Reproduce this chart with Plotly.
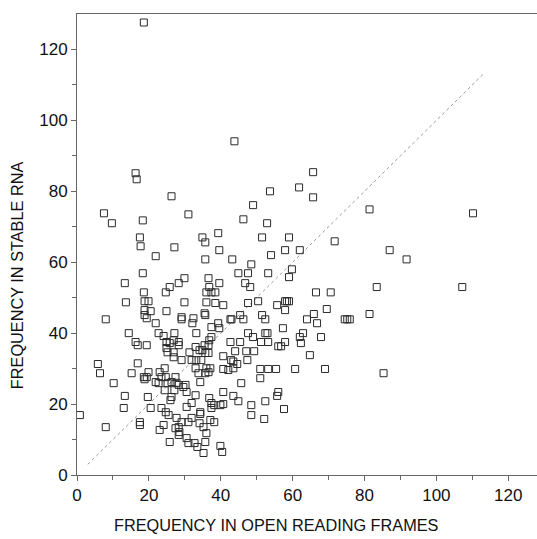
import plotly.graph_objects as go

# Frequency in open reading frames (x) vs frequency in stable RNA (y)
pts = [
 (18.6,127.6),(43.8,94.1),(16.3,85.1),(16.6,83.4),(26.3,78.6),(65.7,85.4),(61.8,81.1),(65.7,78.3),
 (53.7,80.0),(49.0,76.1),(31.0,73.5),(7.5,73.8),(9.7,71.0),(18.3,71.8),(46.3,72.1),(52.9,71.0),
 (81.4,74.9),(110.2,73.8),(17.5,67.0),(17.7,64.5),(27.1,64.2),(21.9,61.7),(34.9,67.0),(35.7,65.6),
 (39.3,68.2),(39.6,63.4),(35.7,60.8),(51.5,67.0),(59.0,67.0),(71.7,65.9),(62.0,63.4),(57.9,63.4),
 (54.0,62.0),(43.2,60.8),(48.5,59.4),(59.8,58.0),(59.0,55.8),(44.9,56.9),(47.6,56.9),(53.2,56.9),
 (46.8,54.1),(48.2,53.0),(36.6,55.5),(36.8,53.0),(36.0,51.5),(37.4,51.5),(38.5,51.5),(39.6,54.1),
 (18.3,56.9),(13.3,54.1),(29.9,55.5),(28.3,54.1),(25.8,53.0),(24.7,51.5),(18.6,51.5),(13.6,48.7),
 (18.8,49.0),(19.9,49.0),(29.9,48.7),(36.0,48.7),(38.5,48.5),(40.7,47.9),(66.5,51.5),(70.6,51.5),
 (50.4,49.0),(57.9,49.0),(58.4,49.0),(59.0,49.0),(55.7,47.9),(57.9,46.5),(69.5,46.8),(74.5,43.9),
 (75.2,43.9),(75.9,43.9),(65.9,45.4),(64.0,43.9),(66.8,42.8),(81.4,45.4),(83.4,53.0),(87.0,63.4),
 (91.7,60.8),(107.2,53.0),(85.3,28.7),(51.5,45.1),(52.4,43.9),(45.4,45.1),(46.3,43.9),(42.7,43.9),
 (43.0,43.9),(35.7,45.1),(39.3,42.8),(37.4,41.7),(57.3,41.4),(47.6,40.0),(49.0,38.9),(52.4,40.0),
 (53.0,40.0),(51.2,37.5),(53.2,37.5),(57.9,37.5),(56.0,36.3),(56.8,36.3),(62.9,40.0),(62.0,38.9),
 (62.3,37.2),(67.9,38.9),(64.8,33.8),(42.7,37.5),(45.4,37.5),(44.0,34.9),(47.1,34.9),(49.3,34.9),
 (47.4,32.4),(42.9,32.4),(43.5,32.0),(44.6,31.3),(40.7,33.5),(40.7,29.9),(51.0,29.9),(51.0,27.3),
 (53.2,29.9),(55.4,29.9),(60.7,29.9),(69.0,29.9),(45.7,25.9),(40.7,23.4),(43.5,22.3),(44.9,20.8),
 (48.5,19.7),(48.5,16.9),(52.4,20.8),(52.1,15.8),(56.0,23.4),(55.7,22.3),(57.6,18.6),(37.1,15.5),
 (39.9,19.7),(35.2,13.5),(36.0,11.8),(35.7,9.3),(39.9,8.2),(40.4,6.5),(34.3,17.2),(18.8,46.5),
 (18.8,45.1),(19.4,44.2),(20.5,46.2),(8.0,43.9),(24.9,46.2),(29.1,44.5),(29.1,43.9),(32.4,44.2),
 (32.1,42.8),(35.5,45.6),(14.4,40.0),(16.3,37.5),(16.9,36.6),(19.4,36.6),(22.7,40.0),(24.1,39.2),
 (24.9,37.5),(25.8,37.2),(27.1,40.0),(28.3,37.5),(25.2,34.6),(26.9,34.6),(26.9,33.2),(29.1,32.4),
 (31.3,34.6),(33.0,36.1),(34.1,35.2),(34.9,35.2),(35.5,36.6),(36.6,36.6),(36.8,38.0),(37.4,38.9),
 (39.6,41.4),(5.8,31.3),(6.4,28.7),(16.9,31.5),(15.2,28.7),(18.6,27.6),(19.4,27.6),(19.9,29.0),
 (18.8,27.0),(21.9,26.2),(23.5,27.6),(24.7,27.6),(25.2,25.9),(26.3,26.2),(27.4,27.6),(28.3,25.4),
 (29.6,24.8),(27.1,23.9),(26.3,22.0),(24.4,23.9),(10.2,25.9),(13.3,22.3),(13.0,18.9),(19.7,22.0),
 (20.5,18.9),(23.5,18.9),(17.5,14.1),(17.5,14.9),(0.8,16.9),(8.0,13.5),(24.7,17.7),(25.5,16.9),
 (27.7,16.1),(24.1,14.1),(23.0,12.7),(25.8,9.3),(28.5,12.1),(30.5,10.4),(31.0,9.0),(29.1,14.9),
 (28.3,13.5),(31.9,16.1),(34.1,14.6),(32.7,9.0),(33.5,7.9),(35.2,6.2),(36.8,21.7),(37.4,20.3),
 (37.4,18.9),(38.2,19.7),(38.2,14.9),(40.7,20.0),(31.9,20.3),(30.5,19.2),(34.3,17.7),(24.4,30.1),
 (23.0,29.0),(47.6,48.5),(21.9,42.8),(33.2,40.0),(26.9,38.0),(28.3,36.6),(24.9,35.8),(31.9,32.4),
 (33.2,32.4),(34.6,32.4),(35.7,34.4),(36.6,34.4),(42.1,29.6),(43.5,30.1),(33.0,30.1),(36.0,30.1),
 (37.1,30.1),(22.7,25.9),(27.7,26.0),(30.2,25.4),(30.5,23.4),(33.0,22.5),(33.8,28.7),(34.3,26.2),
 (35.7,28.7),(36.6,29.0),(26.0,21.1),(27.4,13.2),(28.3,11.3),(31.0,14.9),
]
x_orf = [p[0] for p in pts]
y_rna = [p[1] for p in pts]
diag = [3, 113]

x_title = "FREQUENCY IN OPEN READING FRAMES"
y_title = "FREQUENCY IN STABLE RNA"

fig = go.Figure()
fig.add_trace(go.Scatter(x=diag, y=diag, mode="lines",
                         line=dict(color="#9a9a9a", width=1, dash="dot"),
                         hoverinfo="skip", showlegend=False))
fig.add_trace(go.Scatter(x=x_orf, y=y_rna, mode="markers",
                         marker=dict(symbol="square-open", size=7,
                                     color="#2a2a2a", line=dict(width=1)),
                         showlegend=False))

fnt = dict(family="Liberation Sans, Arial, sans-serif", size=17, color="#111")
tfnt = dict(family="Liberation Sans, Arial, sans-serif", size=16.3, color="#111")
fig.update_layout(
    width=537, height=539, margin=dict(l=77, r=0, t=14, b=64),
    paper_bgcolor="white", plot_bgcolor="white", font=fnt,
    xaxis=dict(range=[0, 128], tickvals=[0, 20, 40, 60, 80, 100, 120],
               showgrid=False, zeroline=False, showline=True, linecolor="#666",
               linewidth=1, mirror=True, ticks="outside", ticklen=5, tickcolor="#666",
               minor=dict(tickvals=[10, 30, 50, 70, 90, 110], ticks="outside",
                          ticklen=4, tickcolor="#666"),
               tickfont=fnt),
    yaxis=dict(range=[0, 130], tickvals=[0, 20, 40, 60, 80, 100, 120],
               showgrid=False, zeroline=False, showline=True, linecolor="#666",
               linewidth=1, ticks="outside", ticklen=5, tickcolor="#666",
               minor=dict(tickvals=[10, 30, 50, 70, 90, 110], ticks="outside",
                          ticklen=4, tickcolor="#666"),
               tickfont=fnt),
    annotations=[
        dict(text=x_title, xref="paper", yref="paper", x=0.433, y=-0.108,
             xanchor="center", yanchor="middle", showarrow=False, font=tfnt),
        dict(text=y_title, xref="paper", yref="paper", x=-0.130, y=0.434,
             xanchor="center", yanchor="middle", showarrow=False, font=tfnt,
             textangle=-90),
    ],
)
fig.write_html("out.html")
